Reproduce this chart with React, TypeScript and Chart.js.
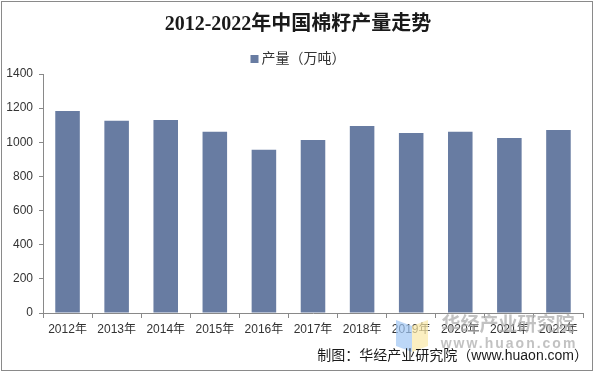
import React, { useEffect, useRef } from "react";
import { Chart, registerables } from "chart.js";

Chart.register(...registerables);

const categories = ["2012年", "2013年", "2014年", "2015年", "2016年", "2017年", "2018年", "2019年", "2020年", "2021年", "2022年"];
const production = [1183, 1126, 1131, 1061, 956, 1013, 1095, 1055, 1061, 1025, 1072];
const seriesLabel = "产量（万吨）";
const titleText = "2012-2022年中国棉籽产量走势";
const sourceText = "制图：华经产业研究院（www.huaon.com）";
const watermarkMain = "华经产业研究院";
const watermarkSub = "www.huaon.com";
const yTicksMin = 0;
const yTicksMax = 1400;
const yTicksStep = 200;

const BAR_COLOR = "#687ca2";
const TEXT_COLOR = "#333333";
const AXIS_COLOR = "#898989";

const decorPlugin = {
  id: "decor",
  beforeDraw(chart: any) {
    const ctx = chart.ctx;
    ctx.save();
    ctx.fillStyle = "#ffffff";
    ctx.fillRect(0, 0, chart.width, chart.height);
    ctx.restore();
  },
  afterDraw(chart: any) {
    const ctx = chart.ctx;
    ctx.save();
    // outer border
    ctx.strokeStyle = "#8a8a8a";
    ctx.lineWidth = 1;
    ctx.strokeRect(1.5, 1.5, 591, 369);

    // title
    ctx.fillStyle = "#1a1a1a";
    ctx.textAlign = "center";
    ctx.textBaseline = "middle";
    ctx.font = "bold 20px 'Liberation Serif', 'Noto Sans CJK SC', serif";
    ctx.fillText(titleText, 298, 25);

    // legend
    ctx.font = "14px 'Liberation Sans', 'Noto Sans CJK SC', sans-serif";
    const tw = ctx.measureText(seriesLabel).width;
    const total = 8 + 3 + tw;
    const lx = 298 - total / 2;
    ctx.fillStyle = BAR_COLOR;
    ctx.fillRect(lx, 55, 8, 8);
    ctx.fillStyle = TEXT_COLOR;
    ctx.textAlign = "left";
    ctx.fillText(seriesLabel, lx + 11, 59);

    // watermark logo
    ctx.globalAlpha = 0.7;
    ctx.fillStyle = "#9fc6f4";
    ctx.beginPath();
    ctx.moveTo(396, 320);
    ctx.lineTo(412, 326);
    ctx.lineTo(412, 352);
    ctx.lineTo(396, 346);
    ctx.closePath();
    ctx.fill();
    ctx.fillStyle = "#f9e8a6";
    ctx.beginPath();
    ctx.moveTo(412, 326);
    ctx.lineTo(428, 320);
    ctx.lineTo(428, 346);
    ctx.lineTo(412, 352);
    ctx.closePath();
    ctx.fill();

    // watermark text
    ctx.globalAlpha = 0.7;
    ctx.fillStyle = "#a8a8a8";
    ctx.textAlign = "center";
    ctx.font = "bold 19px 'Noto Sans CJK SC', sans-serif";
    ctx.fillText(watermarkMain, 508, 324);
    ctx.font = "bold 14px 'Liberation Sans', sans-serif";
    (ctx as any).letterSpacing = "2px";
    ctx.fillText(watermarkSub, 509, 344);
    (ctx as any).letterSpacing = "0px";
    ctx.globalAlpha = 1;

    // source
    ctx.fillStyle = "#1a1a1a";
    ctx.textAlign = "right";
    ctx.font = "14px 'Liberation Sans', 'Noto Sans CJK SC', sans-serif";
    ctx.fillText(sourceText, 588, 356);
    ctx.restore();
  },
};

export default function App() {
  const ref = useRef<HTMLCanvasElement | null>(null);
  useEffect(() => {
    if (!ref.current) return;
    const chart = new Chart(ref.current, {
      type: "bar",
      data: {
        labels: categories,
        datasets: [
          {
            label: seriesLabel,
            data: production,
            backgroundColor: BAR_COLOR,
            borderWidth: 0,
            barPercentage: 0.5,
            categoryPercentage: 1,
          },
        ],
      },
      options: {
        responsive: false,
        animation: false,
        devicePixelRatio: 1,
        layout: { padding: { top: 74, right: 12, left: 0, bottom: 0 } },
        plugins: {
          legend: { display: false },
          title: { display: false },
          tooltip: { enabled: false },
        },
        scales: {
          x: {
            offset: true,
            grid: {
              display: true,
              offset: true,
              drawOnChartArea: false,
              drawTicks: true,
              tickLength: 5,
              color: AXIS_COLOR,
            },
            border: { display: true, color: AXIS_COLOR, width: 1 },
            ticks: {
              color: TEXT_COLOR,
              font: { family: "'Liberation Sans', 'Noto Sans CJK SC', sans-serif", size: 12 },
              padding: 4,
              maxRotation: 0,
              autoSkip: false,
            },
            afterFit(scale: any) {
              scale.height = 60;
            },
          },
          y: {
            min: yTicksMin,
            max: yTicksMax,
            grid: {
              display: true,
              drawOnChartArea: false,
              drawTicks: true,
              tickLength: 4,
              color: AXIS_COLOR,
            },
            border: { display: true, color: AXIS_COLOR, width: 1 },
            ticks: {
              stepSize: yTicksStep,
              color: TEXT_COLOR,
              font: { family: "'Liberation Sans', sans-serif", size: 12 },
              padding: 6,
              callback: (v: any) => String(v),
            },
            afterFit(scale: any) {
              scale.width = 43;
            },
          },
        },
      },
      plugins: [decorPlugin],
    });
    return () => chart.destroy();
  }, []);
  return (
    <div style={{ position: "fixed", left: 0, top: 0, width: 595, height: 373, background: "#fff" }}>
      <canvas ref={ref} width={595} height={373} style={{ display: "block", width: 595, height: 373 }} />
    </div>
  );
}
